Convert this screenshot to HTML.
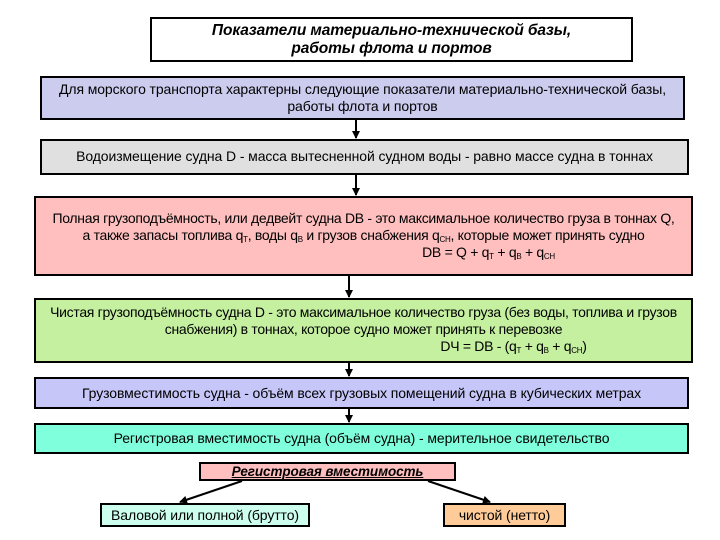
<!DOCTYPE html>
<html><head><meta charset="utf-8"><style>
body{margin:0;width:720px;height:540px;background:#fff;position:relative;overflow:hidden;font-family:"Liberation Sans","DejaVu Sans",sans-serif;font-size:14px;color:#000}
.b{position:absolute;box-sizing:border-box;border:2px solid #000;text-align:center;line-height:17px;white-space:nowrap;letter-spacing:-0.1px}
sub{font-size:8px;vertical-align:-2px;line-height:0}
svg{position:absolute;left:0;top:0}
</style></head><body>
<div class="b" style="left:150px;top:17px;width:483px;height:45px;background:#fff;font-weight:bold;font-style:italic;font-size:15.5px;padding-top:3px;line-height:18px">Показатели материально-технической базы,<br>работы флота и портов</div>
<div class="b" style="left:40px;top:76px;width:645px;height:44px;background:#ccccee;padding-top:3px">Для морского транспорта характерны следующие показатели материально-технической базы,<br>работы флота и портов</div>
<div class="b" style="left:40px;top:139px;width:649px;height:36px;background:#e0e0e0;padding-top:7px">Водоизмещение судна D - масса вытесненной судном воды - равно массе судна в тоннах</div>
<div class="b" style="left:34px;top:196px;width:659px;height:80px;background:#ffbfbf;padding-top:12px;letter-spacing:-0.3px">Полная грузоподъёмность, или дедвейт судна DB - это максимальное количество груза в тоннах Q,<br>а также запасы топлива q<sub>Т</sub>, воды q<sub>В</sub> и грузов снабжения q<sub>СН</sub>, которые может принять судно<br><span style="padding-left:250px">DB = Q + q<sub>Т</sub> + q<sub>В</sub> + q<sub>СН</sub></span></div>
<div class="b" style="left:34px;top:298px;width:659px;height:65px;background:#c4f0a0;padding-top:4px;letter-spacing:-0.3px">Чистая грузоподъёмность судна D - это максимальное количество груза (без воды, топлива и грузов<br>снабжения) в тоннах, которое судно может принять к перевозке<br><span style="padding-left:300px">DЧ = DB - (q<sub>Т</sub> + q<sub>В</sub> + q<sub>СН</sub>)</span></div>
<div class="b" style="left:34px;top:377px;width:655px;height:32px;background:#c6c6f8;padding-top:6px">Грузовместимость судна - объём всех грузовых помещений судна в кубических метрах</div>
<div class="b" style="left:34px;top:423px;width:655px;height:31px;background:#80ffdd;padding-top:5px">Регистровая вместимость судна (объём судна) - мерительное свидетельство</div>
<div class="b" style="left:199px;top:462px;width:257px;height:19px;background:#ffbfbf;font-weight:bold;font-style:italic;font-size:13.5px;text-decoration:underline;line-height:15px">Регистровая вместимость</div>
<div class="b" style="left:100px;top:503px;width:210px;height:24px;background:#ccffee;line-height:20px">Валовой или полной (брутто)</div>
<div class="b" style="left:443px;top:503px;width:123px;height:24px;background:#ffcc99;line-height:20px">чистой (нетто)</div>
<svg width="720" height="540">
<defs><marker id="a" markerWidth="8" markerHeight="8" refX="7" refY="4" orient="auto" markerUnits="userSpaceOnUse"><path d="M0,0L8,4L0,8z" fill="#000"/></marker></defs>
<g stroke="#000" stroke-width="2" marker-end="url(#a)">
<line x1="356" y1="120" x2="356" y2="138"/>
<line x1="356" y1="175" x2="356" y2="195"/>
<line x1="349" y1="276" x2="349" y2="297"/>
<line x1="349" y1="363" x2="349" y2="376"/>
<line x1="349" y1="409" x2="349" y2="422"/>
<line x1="242" y1="481" x2="180" y2="502"/>
<line x1="428" y1="481" x2="490" y2="502"/>
</g></svg>
</body></html>
